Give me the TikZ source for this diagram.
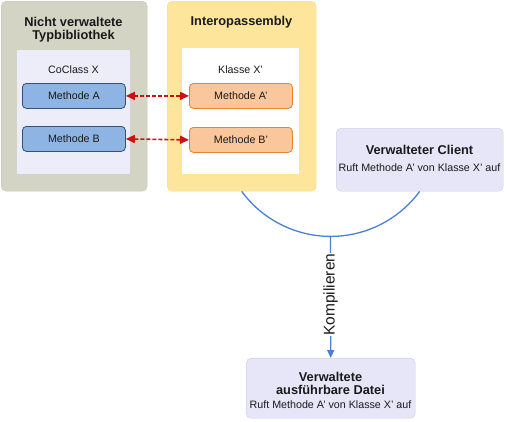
\documentclass[tikz,border=0pt]{standalone}
\usepackage{fontspec}
\setmainfont{Liberation Sans}
\usetikzlibrary{arrows.meta}
\definecolor{grayfill}{HTML}{D4D4C5}
\definecolor{grayline}{HTML}{C6C6B6}
\definecolor{lavinner}{HTML}{EDEDFA}
\definecolor{bluefill}{HTML}{8DB4E2}
\definecolor{blueline}{HTML}{34507A}
\definecolor{yelfill}{HTML}{FDE69C}
\definecolor{yelline}{HTML}{F3DA8C}
\definecolor{orfill}{HTML}{FAC69C}
\definecolor{orline}{HTML}{E8822E}
\definecolor{lavbox}{HTML}{E6E6F8}
\definecolor{lavline}{HTML}{C9C9DA}
\definecolor{arcblue}{HTML}{4A80D4}
\definecolor{redarrow}{HTML}{CC1111}
\definecolor{txt}{HTML}{1A1A1A}
\tikzset{
  panel/.style={rounded corners=5pt, inner sep=0pt, anchor=north west},
  meth/.style={rounded corners=4pt, inner sep=0pt, anchor=north west, minimum width=103pt, minimum height=25pt, font=\fontsize{10.7}{12}\selectfont, text=txt},
  bluemeth/.style={meth, fill=bluefill, draw=blueline, line width=0.8pt},
  ormeth/.style={meth, fill=orfill, draw=orline, line width=0.8pt},
  title/.style={font=\fontsize{12.8}{14.5}\selectfont\bfseries, text=txt, align=center},
  plain/.style={font=\fontsize{10.7}{12}\selectfont, text=txt, align=center},
  link/.style={redarrow, line width=1.6pt, dash pattern=on 4pt off 2pt, {Triangle[length=9pt,width=8pt]}-{Triangle[length=9pt,width=8pt]}},
  flow/.style={arcblue, line width=1.3pt},
}
\begin{document}
\begin{tikzpicture}[x=1pt,y=-1pt]
\useasboundingbox (0,0) rectangle (506,421);
% left gray box
\node[panel, fill=grayfill, draw=grayline, minimum width=146pt, minimum height=190pt] (typlib) at (1,1) {};
\node[title] (typlibt) at (73.5,29.5) {Nicht verwaltete\\[-1pt]Typbibliothek};
\node[inner sep=0pt, anchor=north west, fill=lavinner, minimum width=113pt, minimum height=124pt] (coinner) at (17,50) {};
\node[plain] (coclass) at (73.5,70) {CoClass X};
\node[bluemeth] (ma) at (22,83) {Methode A};
\node[bluemeth] (mb) at (22,126) {Methode B};
% yellow box
\node[panel, fill=yelfill, draw=yelline, minimum width=149pt, minimum height=190pt] (interop) at (167,1) {};
\node[title] (interopt) at (241.5,22) {Interopassembly};
\node[inner sep=0pt, anchor=north west, fill=white, minimum width=117pt, minimum height=126pt] (klinner) at (182,48) {};
\node[plain] (klasse) at (240.5,70) {Klasse X'};
\node[ormeth] (mas) at (189,83) {Methode A'};
\node[ormeth] (mbs) at (189,127) {Methode B'};
% arrows
\draw[link] (ma.east) -- (mas.west);
\draw[link] (mb.east) -- (mbs.west);
% client
\node[panel, fill=lavbox, draw=lavline, minimum width=167pt, minimum height=63pt] (client) at (336,128) {};
\node[title] (clientt) at (419.5,150) {Verwalteter Client};
\node[plain] (clients) at (419.5,168) {Ruft Methode A' von Klasse X' auf};
% final
\node[panel, fill=lavbox, draw=lavline, minimum width=169pt, minimum height=60pt] (final) at (246,358) {};
\node[title] (finalt) at (330.5,383.5) {Verwaltete\\[-1pt]ausführbare Datei};
\node[plain] (finals) at (330.5,405) {Ruft Methode A' von Klasse X' auf};
% arc and compile arrow
\draw[flow] (interop.south) arc[start angle=216.35, end angle=323.65, radius=110.5pt];
\coordinate (m) at (330.5,236);
\draw[flow, -{Triangle[length=8pt,width=7pt]}] (m) -- (final.north)
  node[pos=0.48, rotate=90, fill=white, inner sep=1pt, font=\fontsize{15.5}{17}\selectfont, text=txt] (komp) {Kompilieren};
\end{tikzpicture}
\end{document}
